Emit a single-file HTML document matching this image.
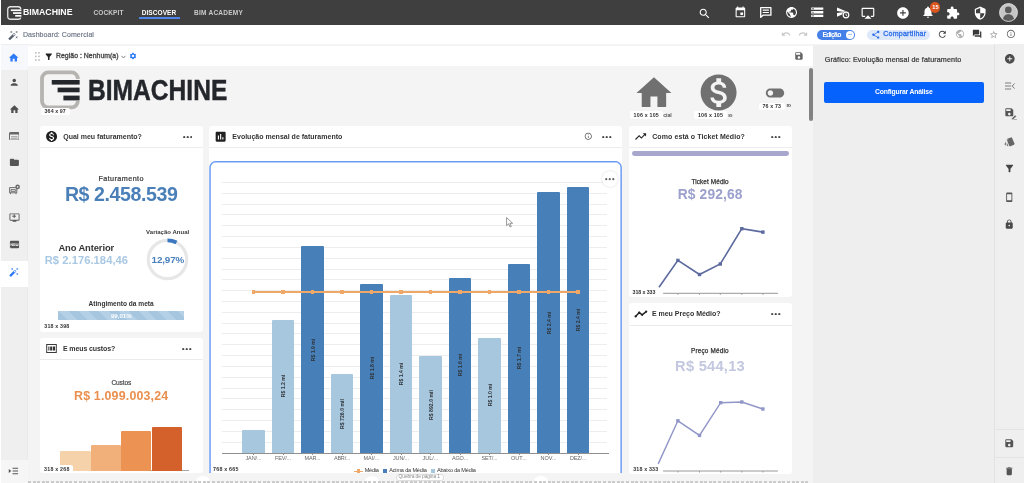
<!DOCTYPE html><html lang="pt-BR"><head><meta charset="utf-8"><title>Dashboard: Comercial</title><style>html,body{margin:0;padding:0}body{width:1024px;height:483px;position:relative;overflow:hidden;background:#f4f4f4;font-family:"Liberation Sans", sans-serif}.a{position:absolute;display:block}.t{position:absolute;white-space:nowrap;line-height:1}</style></head><body>
<div class="a" style="left:0px;top:0px;width:1024px;height:25px;background:#3f3f3f;"></div>
<div class="a" style="left:0px;top:0px;width:1px;height:25px;background:#fff;"></div>
<svg class="a" style="left:7px;top:5.5px" width="15" height="14" viewBox="0 0 15 14"><rect x="0.75" y="0.75" width="13" height="12.5" rx="2.6" fill="none" stroke="#e6e6e6" stroke-width="1.3"/><rect x="3.5" y="3" width="11.5" height="8.6" fill="#3f3f3f"/><rect x="3.8" y="3.4" width="10.6" height="1.7" fill="#fff"/><rect x="6" y="6.2" width="8.4" height="1.7" fill="#fff"/><rect x="8.2" y="9" width="6.2" height="1.7" fill="#fff"/></svg>
<span class="t" style="left:23.10px;top:7.31px;font-size:9.8px;font-weight:700;color:#fff;transform-origin:0 50%;transform:scaleX(0.8916);">BIMACHINE</span>
<span class="t" style="left:93.50px;top:9.52px;font-size:6.5px;font-weight:700;color:#cacaca;letter-spacing:0.107px;">COCKPIT</span>
<span class="t" style="left:141.70px;top:9.52px;font-size:6.5px;font-weight:700;color:#fff;letter-spacing:0.081px;">DISCOVER</span>
<div class="a" style="left:138.7px;top:17.1px;width:41.20000000000002px;height:1.5px;background:#4d86e8;"></div>
<span class="t" style="left:194.00px;top:9.52px;font-size:6.5px;font-weight:700;color:#cacaca;letter-spacing:0.241px;">BIM ACADEMY</span>
<svg class="a" style="left:698.10px;top:6.60px" width="13.2" height="13.2" viewBox="0 0 24 24" ><path fill="#fff" d="M15.500 14h-.79l-.28-.27C15.410 12.590 16 11.110 16 9.500 16 5.910 13.090 3 9.500 3S3 5.910 3 9.500 5.910 16 9.500 16c1.610 0 3.090-.59 4.230-1.570l.27.28v.79l5 4.990L20.490 19l-4.990-5zm-6 0C7.010 14 5 11.990 5 9.500S7.010 5 9.500 5 14 7.010 14 9.500 11.990 14 9.500 14z"/></svg>
<svg class="a" style="left:733.90px;top:6.00px" width="12.8" height="12.8" viewBox="0 0 24 24" ><path fill="#fff" d="M17 12h-5v5h5v-5zM16 1v2H8V1H6v2H5c-1.110 0-1.990.9-1.990 2L3 19c0 1.100.89 2 2 2h14c1.100 0 2-.9 2-2V5c0-1.100-.9-2-2-2h-1V1h-2zm3 18H5V8h14v11z"/></svg>
<svg class="a" style="left:784.95px;top:6.45px" width="13.1" height="13.1" viewBox="0 0 24 24" ><path fill="#fff" d="M12 2C6.480 2 2 6.480 2 12s4.480 10 10 10 10-4.480 10-10S17.520 2 12 2zm-1 17.930c-3.950-.49-7-3.850-7-7.930 0-.62.08-1.210.21-1.790L9 15v1c0 1.100.9 2 2 2v1.930zm6.900-2.540c-.26-.81-1-1.390-1.900-1.390h-1v-3c0-.55-.45-1-1-1H8v-2h2c.55 0 1-.45 1-1V7h2c1.100 0 2-.9 2-2v-.41c2.930 1.190 5 4.060 5 7.410 0 2.080-.8 3.970-2.100 5.390z"/></svg>
<svg class="a" style="left:809.85px;top:5.45px" width="14.5" height="14.5" viewBox="0 0 24 24" ><path fill="#fff" d="M2 20h20v-4H2v4zm2-3h2v2H4v-2zM2 4v4h20V4H2zm4 3H4V5h2v2zm-4 7h20v-4H2v4zm2-3h2v2H4v-2z"/></svg>
<svg class="a" style="left:861.25px;top:6.05px" width="13.9" height="13.9" viewBox="0 0 24 24" ><path fill="#fff" d="M6 22h12l-6-6-6 6zM21 3H3c-1.100 0-2 .9-2 2v12c0 1.100.9 2 2 2h4v-2H3V5h18v12h-4v2h4c1.100 0 2-.9 2-2V5c0-1.100-.9-2-2-2z"/></svg>
<svg class="a" style="left:895.85px;top:5.85px" width="13.9" height="13.9" viewBox="0 0 24 24" ><path fill="#fff" d="M12 2C6.480 2 2 6.480 2 12s4.480 10 10 10 10-4.480 10-10S17.520 2 12 2zm5 11h-4v4h-2v-4H7v-2h4V7h2v4h4v2z"/></svg>
<svg class="a" style="left:921.30px;top:5.30px" width="14" height="14" viewBox="0 0 24 24" ><path fill="#fff" d="M12 22c1.100 0 2-.9 2-2h-4c0 1.100.89 2 2 2zm6-6v-5c0-3.070-1.640-5.640-4.500-6.320V4c0-.83-.67-1.500-1.500-1.500s-1.500.67-1.500 1.500v.68C7.630 5.360 6 7.920 6 11v5l-2 2v1h16v-1l-2-2z"/></svg>
<svg class="a" style="left:946.40px;top:6.00px" width="14" height="14" viewBox="0 0 24 24" ><path fill="#fff" d="M20.500 11H19V7c0-1.100-.9-2-2-2h-4V3.500C13 2.120 11.880 1 10.500 1S8 2.120 8 3.500V5H4c-1.100 0-1.990.9-1.990 2v3.800H3.500c1.490 0 2.700 1.210 2.700 2.700s-1.210 2.700-2.700 2.700H2V20c0 1.100.9 2 2 2h3.800v-1.500c0-1.490 1.210-2.700 2.700-2.700 1.490 0 2.700 1.210 2.700 2.700V22H17c1.100 0 2-.9 2-2v-4h1.500c1.380 0 2.500-1.120 2.500-2.500S21.880 11 20.500 11z"/></svg>
<svg class="a" style="left:972.50px;top:6.00px" width="14.4" height="14.4" viewBox="0 0 24 24" ><path fill="#fff" d="M12 1L3 5v6c0 5.550 3.840 10.740 9 12 5.160-1.260 9-6.450 9-12V5l-9-4zm0 10.990h7c-.53 4.120-3.280 7.790-7 8.940V12H5V6.300l7-3.110v8.800z"/></svg>
<svg class="a" style="left:760.2px;top:7.3px" width="11.6" height="11" viewBox="0 0 11.6 11"><path d="M0.7 0.7H10.9V8.2H3L0.7 10.4Z" fill="none" stroke="#fff" stroke-width="1.3" stroke-linejoin="round"/><path d="M2.7 3.1h6.2M2.7 5.5h6.2" stroke="#fff" stroke-width="1.1"/></svg>
<svg class="a" style="left:835.90px;top:6.30px" width="12.2" height="12.2" viewBox="0 0 24 24" ><path fill="#fff" d="M2.010 21L23 12 2.010 3 2 10l15 2-15 2z"/></svg>
<svg class="a" style="left:841.8px;top:11.4px" width="8" height="8" viewBox="0 0 10 10"><circle cx="5" cy="5" r="4.8" fill="#3f3f3f"/><circle cx="5" cy="5" r="3.5" fill="none" stroke="#fff" stroke-width="1.5"/><path d="M5 3v2.3l1.5 0.9" stroke="#fff" stroke-width="1" fill="none"/></svg>
<div class="a" style="left:930.1px;top:2.3px;width:10.4px;height:10.4px;border-radius:5.2px;background:#dc5620"></div>
<span class="t" style="left:932.20px;top:4.86px;font-size:5.6px;font-weight:700;color:#fff;letter-spacing:0.083px;">15</span>
<svg class="a" style="left:998.5px;top:3px" width="19" height="19" viewBox="0 0 19 19"><defs><clipPath id="av"><circle cx="9.5" cy="9.5" r="9.2"/></clipPath></defs><g clip-path="url(#av)"><rect width="19" height="19" fill="#c6c6c6"/><circle cx="9.3" cy="6.9" r="3.3" fill="#5a5a5a"/><path d="M3.6 19C3.6 13.6 6 11.2 9.4 11.2S15.4 13.6 15.4 19Z" fill="#5a5a5a"/></g><circle cx="9.5" cy="9.5" r="8.9" fill="none" stroke="#dadada" stroke-width="0.8"/></svg>
<div class="a" style="left:0px;top:25px;width:1024px;height:19px;background:#fff;"></div>
<svg class="a" style="left:8.00px;top:29.80px" width="10.6" height="10.6" viewBox="0 0 24 24" ><path fill="#5a6270" d="M7.500 5.600L10 7 8.600 4.500 10 2 7.500 3.400 5 2l1.400 2.500L5 7zm12 9.800L17 14l1.400 2.500L17 19l2.500-1.400L22 19l-1.400-2.500L22 14zM22 2l-2.500 1.400L17 2l1.400 2.500L17 7l2.500-1.400L22 7l-1.400-2.500zm-7.630 5.290c-.39-.39-1.020-.39-1.410 0L1.290 18.960c-.39.39-.39 1.020 0 1.410l2.340 2.340c.39.39 1.020.39 1.410 0L16.700 11.050c.39-.39.39-1.020 0-1.410l-2.330-2.350zm-1.030 5.490l-2.120-2.120 2.440-2.440 2.120 2.120-2.440 2.440z"/></svg>
<span class="t" style="left:23.00px;top:31.18px;font-size:7px;font-weight:400;color:#6a7484;letter-spacing:0.067px;-webkit-text-stroke:0.15px #6a7484;">Dashboard: Comercial</span>
<svg class="a" style="left:780.60px;top:29.40px" width="10" height="10" viewBox="0 0 24 24" ><path fill="#c8c8c8" d="M12.500 8c-2.650 0-5.050.99-6.900 2.600L2 7v9h9l-3.620-3.620c1.390-1.160 3.160-1.880 5.120-1.880 3.540 0 6.550 2.310 7.600 5.500l2.370-.78C21.080 11.030 17.150 8 12.500 8z"/></svg>
<svg class="a" style="left:798.20px;top:29.40px" width="10" height="10" viewBox="0 0 24 24" ><path fill="#c8c8c8" d="M18.400 10.600C16.550 8.990 14.150 8 11.500 8c-4.650 0-8.580 3.030-9.960 7.220L3.900 16c1.050-3.190 4.050-5.500 7.600-5.500 1.950 0 3.730.72 5.120 1.880L13 16h9V7l-3.600 3.600z"/></svg>
<div class="a" style="left:816.8px;top:29.6px;width:38.5px;height:10.5px;border-radius:6px;background:#4580e8"></div>
<div class="a" style="left:845.8px;top:30.8px;width:8.2px;height:8.2px;border-radius:4.1px;background:#fff"></div>
<div class="a" style="left:848px;top:34.4px;width:3.8px;height:1px;background:#a9c2f0"></div>
<span class="t" style="left:822.40px;top:31.58px;font-size:6.8px;font-weight:700;color:#fff;letter-spacing:-0.666px;">Edição</span>
<div class="a" style="left:866.9px;top:29.6px;width:63px;height:10.5px;border-radius:6px;background:#dde8fb"></div>
<svg class="a" style="left:870.70px;top:30.00px" width="9.6" height="9.6" viewBox="0 0 24 24" ><path fill="#2d6ee6" d="M18 16.080c-.76 0-1.440.3-1.960.77L8.910 12.700c.05-.23.09-.46.09-.7s-.04-.47-.09-.7l7.050-4.110c.54.5 1.250.81 2.040.81 1.660 0 3-1.340 3-3s-1.340-3-3-3-3 1.340-3 3c0 .24.04.47.09.7L8.040 9.810C7.500 9.310 6.790 9 6 9c-1.660 0-3 1.340-3 3s1.340 3 3 3c.79 0 1.500-.31 2.040-.81l7.120 4.160c-.05.21-.08.43-.08.65 0 1.610 1.310 2.920 2.920 2.920 1.610 0 2.920-1.310 2.920-2.920s-1.310-2.920-2.920-2.920z"/></svg>
<span class="t" style="left:883.20px;top:31.33px;font-size:7.1px;font-weight:400;color:#2d6ee6;letter-spacing:0.208px;-webkit-text-stroke:0.3px #2d6ee6;">Compartilhar</span>
<svg class="a" style="left:937.40px;top:28.70px" width="10.6" height="10.6" viewBox="0 0 24 24" ><path fill="#444" d="M17.650 6.350C16.200 4.900 14.210 4 12 4c-4.420 0-7.990 3.580-7.990 8s3.570 8 7.990 8c3.730 0 6.840-2.550 7.730-6h-2.080c-.82 2.330-3.040 4-5.650 4-3.310 0-6-2.690-6-6s2.690-6 6-6c1.660 0 3.140.69 4.220 1.780L13 11h7V4l-2.350 2.350z"/></svg>
<svg class="a" style="left:954.65px;top:29.00px" width="10" height="10" viewBox="0 0 24 24" ><path fill="#b0b0b0" d="M12 2C6.480 2 2 6.480 2 12s4.480 10 10 10 10-4.480 10-10S17.520 2 12 2zm-1 17.930c-3.950-.49-7-3.850-7-7.930 0-.62.08-1.210.21-1.790L9 15v1c0 1.100.9 2 2 2v1.930zm6.900-2.540c-.26-.81-1-1.390-1.900-1.390h-1v-3c0-.55-.45-1-1-1H8v-2h2c.55 0 1-.45 1-1V7h2c1.100 0 2-.9 2-2v-.41c2.930 1.190 5 4.060 5 7.410 0 2.080-.8 3.970-2.100 5.390z"/></svg>
<svg class="a" style="left:971.90px;top:29.10px" width="10.2" height="10.2" viewBox="0 0 24 24" ><path fill="#3a3a3a" d="M21 6h-2v9H6v2c0 .55.45 1 1 1h11l4 4V7c0-.55-.45-1-1-1zm-4 6V3c0-.55-.45-1-1-1H3c-.55 0-1 .45-1 1v14l4-4h10c.55 0 1-.45 1-1z"/></svg>
<svg class="a" style="left:989.30px;top:29.70px" width="9.4" height="9.4" viewBox="0 0 24 24" ><path fill="#999" d="M22 9.240l-7.190-.62L12 2 9.190 8.630 2 9.240l5.460 4.730L5.820 21 12 17.270 18.180 21l-1.630-7.030L22 9.240zM12 15.400l-3.760 2.270 1-4.280-3.320-2.880 4.380-.38L12 6.100l1.710 4.040 4.380.38-3.320 2.880 1 4.280L12 15.400z"/></svg>
<svg class="a" style="left:1005.85px;top:29.05px" width="9.9" height="9.9" viewBox="0 0 24 24" ><path fill="#6a6a6a" d="M11 17h2v-6h-2v6zm1-15C6.480 2 2 6.480 2 12s4.480 10 10 10 10-4.480 10-10S17.520 2 12 2zm0 18c-4.410 0-8-3.590-8-8s3.590-8 8-8 8 3.590 8 8-3.590 8-8 8zM11 9h2V7h-2v2z"/></svg>
<div class="a" style="left:0px;top:44px;width:1024px;height:439px;background:#f4f4f4;"></div>
<div class="a" style="left:0px;top:44px;width:27.5px;height:439px;background:#efefef;"></div>
<div class="a" style="left:0px;top:44px;width:1px;height:439px;background:#fff;"></div>
<div class="a" style="left:27px;top:44px;width:0.8000000000000007px;height:439px;background:#e9e9e9;"></div>
<div class="a" style="left:1px;top:44.5px;width:26.5px;height:25.5px;background:#f6f8fc;"></div>
<svg class="a" style="left:8.40px;top:51.80px" width="11.4" height="11.4" viewBox="0 0 24 24" ><path fill="#2f7af5" d="M10 20v-6h4v6h5v-8h3L12 3 2 12h3v8z"/></svg>
<svg class="a" style="left:8.85px;top:76.55px" width="10.5" height="10.5" viewBox="0 0 24 24" ><path fill="#4f4f4f" d="M12 12c2.21 0 4-1.79 4-4s-1.79-4-4-4-4 1.790-4 4 1.790 4 4 4zm0 2c-2.670 0-8 1.340-8 4v2h16v-2c0-2.660-5.330-4-8-4z"/></svg>
<svg class="a" style="left:8.70px;top:103.60px" width="10.8" height="10.8" viewBox="0 0 24 24" ><path fill="#4f4f4f" d="M10 20v-6h4v6h5v-8h3L12 3 2 12h3v8z"/></svg>
<svg class="a" style="left:8.8px;top:131.6px" width="10.6" height="8.6" viewBox="0 0 10.6 8.6"><rect x="0.5" y="0.5" width="9.6" height="7.6" rx="0.8" fill="none" stroke="#666" stroke-width="1"/><rect x="0.5" y="0.5" width="9.6" height="2" fill="#666"/><path d="M2 4.7h6.6M2 6.3h6.6" stroke="#8a8a8a" stroke-width="0.8"/></svg>
<svg class="a" style="left:8.70px;top:157.40px" width="10.8" height="10.8" viewBox="0 0 24 24" ><path fill="#555" d="M10 4H4c-1.100 0-1.990.9-1.990 2L2 18c0 1.100.9 2 2 2h16c1.100 0 2-.9 2-2V8c0-1.100-.9-2-2-2h-8l-2-2z"/></svg>
<svg class="a" style="left:8.6px;top:184.4px" width="11.4" height="10.6" viewBox="0 0 11.4 10.6"><path d="M0.6 3.6h7.2v5.2H0.6z" fill="none" stroke="#6a6a6a" stroke-width="1"/><path d="M1.4 10.2v-1.6M7 10.2v-1.6M2 5.6h4.4v1.8H2z" stroke="#6a6a6a" stroke-width="0.9" fill="none"/><circle cx="8.6" cy="2.9" r="2.3" fill="#6a6a6a"/><circle cx="8.6" cy="2.9" r="0.8" fill="#efefef"/></svg>
<svg class="a" style="left:8.60px;top:211.70px" width="11" height="11" viewBox="0 0 24 24" ><path fill="#5a5a5a" d="M21 3H3c-1.100 0-2 .9-2 2v12c0 1.100.9 2 2 2h5v2h8v-2h5c1.100 0 1.990-.9 1.990-2L23 5c0-1.100-.9-2-2-2zm0 14H3V5h18v12z"/></svg>
<svg class="a" style="left:12px;top:213.6px" width="4.4" height="4.4" viewBox="0 0 4.4 4.4"><path d="M2.2 0.2v4M0.2 2.2h4" stroke="#5a5a5a" stroke-width="1"/></svg>
<svg class="a" style="left:8.60px;top:239.10px" width="11" height="11" viewBox="0 0 24 24" ><path fill="#555" d="M20 4H4c-1.110 0-1.990.89-1.990 2L2 18c0 1.110.89 2 2 2h16c1.110 0 2-.89 2-2V6c0-1.110-.89-2-2-2zM8.500 15H7.300l-2.550-3.500V15H3.500V9h1.250l2.500 3.500V9H8.500v6zm5-4.740H11v1.120h2.500v1.260H11v1.110h2.500V15h-4V9h4v1.260zm7 3.740c0 .55-.45 1-1 1h-4c-.55 0-1-.45-1-1V9h1.250v4.510h1.130V9.990h1.250v3.510h1.120V9h1.250v5z"/></svg>
<div class="a" style="left:0px;top:260.5px;width:27.5px;height:26.5px;background:#fff;"></div>
<svg class="a" style="left:9.10px;top:267.10px" width="10.2" height="10.2" viewBox="0 0 24 24" ><path fill="#2f7af5" d="M7.500 5.600L10 7 8.600 4.500 10 2 7.500 3.400 5 2l1.400 2.500L5 7zm12 9.800L17 14l1.400 2.500L17 19l2.500-1.400L22 19l-1.400-2.500L22 14zM22 2l-2.500 1.400L17 2l1.400 2.500L17 7l2.500-1.400L22 7l-1.400-2.500zm-7.630 5.290c-.39-.39-1.020-.39-1.410 0L1.290 18.960c-.39.39-.39 1.020 0 1.410l2.340 2.340c.39.39 1.020.39 1.410 0L16.700 11.050c.39-.39.39-1.020 0-1.410l-2.330-2.350zm-1.030 5.490l-2.120-2.120 2.440-2.440 2.120 2.120-2.440 2.440z"/></svg>
<div class="a" style="left:1px;top:460px;width:26.5px;height:23px;background:#f6f6f6;"></div>
<svg class="a" style="left:8.4px;top:467.4px" width="11" height="8.2" viewBox="0 0 11 9"><path d="M0.3 2.3 L3 4.5 L0.3 6.7z" fill="#555"/><path d="M4.5 1.5h6M4.5 4.5h6M4.5 7.5h6" stroke="#555" stroke-width="1.1"/></svg>
<div class="a" style="left:28px;top:46.2px;width:785.4px;height:19.599999999999994px;background:#fff;"></div>
<svg class="a" style="left:35px;top:52px" width="5" height="9" viewBox="0 0 5 9"><g fill="#bdbdbd"><rect x="0" y="0" width="1.6" height="1.6"/><rect x="3.2" y="0" width="1.6" height="1.6"/><rect x="0" y="3.6" width="1.6" height="1.6"/><rect x="3.2" y="3.6" width="1.6" height="1.6"/><rect x="0" y="7.2" width="1.6" height="1.6"/><rect x="3.2" y="7.2" width="1.6" height="1.6"/></g></svg>
<svg class="a" style="left:43.75px;top:51.85px" width="9.5" height="9.5" viewBox="0 0 24 24" ><path fill="#222" d="M4.250 5.610C6.270 8.200 10 13 10 13v6c0 .55.45 1 1 1h2c.55 0 1-.45 1-1v-6s3.720-4.800 5.740-7.390c.51-.66.04-1.610-.79-1.610H5.040c-.83 0-1.300.95-.79 1.610z"/></svg>
<span class="t" style="left:56.00px;top:53.03px;font-size:6.9px;font-weight:400;color:#4a4a4a;letter-spacing:0.025px;-webkit-text-stroke:0.35px #4a4a4a;">Região : Nenhum(a)</span>
<svg class="a" style="left:120.5px;top:54.5px" width="5" height="4" viewBox="0 0 5 4"><path d="M0.5 0.8L2.5 3 4.5 0.8" stroke="#777" stroke-width="0.9" fill="none"/></svg>
<svg class="a" style="left:128.50px;top:52.40px" width="8" height="8" viewBox="0 0 24 24" ><path fill="#2f7af5" d="M19.140 12.940c.04-.3.06-.61.06-.94 0-.32-.02-.64-.07-.94l2.030-1.580c.18-.14.23-.41.12-.61l-1.920-3.320c-.12-.22-.37-.29-.59-.22l-2.390.96c-.5-.38-1.030-.7-1.620-.94l-.36-2.540c-.04-.24-.24-.41-.48-.41h-3.840c-.24 0-.43.17-.47.41l-.36 2.540c-.59.24-1.130.57-1.620.94l-2.390-.96c-.22-.08-.47 0-.59.22L2.740 8.870c-.12.21-.08.47.12.61l2.030 1.580c-.05.3-.09.63-.09.94s.02.64.07.94l-2.030 1.580c-.18.14-.23.41-.12.61l1.920 3.320c.12.22.37.29.59.22l2.390-.96c.5.38 1.030.7 1.620.94l.36 2.540c.05.24.24.41.48.41h3.840c.24 0 .44-.17.47-.41l.36-2.540c.59-.24 1.130-.56 1.620-.94l2.390.96c.22.08.47 0 .59-.22l1.920-3.320c.12-.22.07-.47-.12-.61l-2.010-1.580zM12 15.600c-1.980 0-3.600-1.620-3.600-3.600s1.620-3.600 3.600-3.600 3.600 1.620 3.600 3.600-1.620 3.600-3.600 3.600z"/></svg>
<svg class="a" style="left:793.95px;top:51.35px" width="9.9" height="9.9" viewBox="0 0 24 24" ><path fill="#666" d="M17 3H5c-1.110 0-2 .9-2 2v14c0 1.100.89 2 2 2h14c1.100 0 2-.9 2-2V7l-4-4zm-5 16c-1.660 0-3-1.340-3-3s1.340-3 3-3 3 1.340 3 3-1.340 3-3 3zm3-10H5V5h10v4z"/></svg>
<div class="a" style="left:809.4px;top:68px;width:3.8px;height:52.6px;border-radius:2px;background:#828282"></div>
<div class="a" style="left:813.4px;top:44.6px;width:181.0px;height:438.4px;background:#eeeeee;"></div>
<div class="a" style="left:994.4px;top:44px;width:29.600000000000023px;height:439px;background:#efefef;"></div>
<div class="a" style="left:994px;top:44px;width:0.8999999999999773px;height:439px;background:#e3e3e3;"></div>
<span class="t" style="left:824.80px;top:55.98px;font-size:7.2px;font-weight:400;color:#333;letter-spacing:0.112px;-webkit-text-stroke:0.2px #333;">Gráfico: Evolução mensal de faturamento</span>
<div class="a" style="left:824.4px;top:82px;width:159.4px;height:21.2px;border-radius:2px;background:#0562fc"></div>
<span class="t" style="left:875.00px;top:89.28px;font-size:6.8px;font-weight:700;color:#fff;letter-spacing:-0.170px;">Configurar Análise</span>
<svg class="a" style="left:1003.60px;top:52.50px" width="11.6" height="11.6" viewBox="0 0 24 24" ><path fill="#4a4a4a" d="M12 2C6.480 2 2 6.480 2 12s4.480 10 10 10 10-4.480 10-10S17.520 2 12 2zm5 11h-4v4h-2v-4H7v-2h4V7h2v4h4v2z"/></svg>
<svg class="a" style="left:1004.6px;top:82.3px" width="10" height="8" viewBox="0 0 10 8"><path d="M0 1h6.2M0 4h6.2M0 7h6.2" stroke="#7c7c7c" stroke-width="1"/><path d="M9.6 1.4L7.2 4l2.400 2.600" stroke="#7c7c7c" stroke-width="1" fill="none"/></svg>
<svg class="a" style="left:1003.50px;top:107.30px" width="10.6" height="10.6" viewBox="0 0 24 24" ><path fill="#555" d="M17 3H5c-1.110 0-2 .9-2 2v14c0 1.100.89 2 2 2h14c1.100 0 2-.9 2-2V7l-4-4zm-5 16c-1.660 0-3-1.340-3-3s1.340-3 3-3 3 1.340 3 3-1.340 3-3 3zm3-10H5V5h10v4z"/></svg>
<svg class="a" style="left:1010.6px;top:113.6px" width="6.4" height="6.400" viewBox="0 0 6.4 6.4"><path d="M0.600 5.800L1 4.200 4.200 1 5.400 2.200 2.200 5.400Z" fill="#555" stroke="#eee" stroke-width="0.5"/><path d="M2.800 6h3.400" stroke="#555" stroke-width="0.8"/></svg>
<svg class="a" style="left:1003.50px;top:135.50px" width="11.4" height="11.4" viewBox="0 0 24 24" ><path fill="#666" d="M2.530 19.650l1.340.56v-9.030l-2.430 5.860c-.41 1.020.08 2.190 1.090 2.610zm19.500-3.700L17.070 3.980c-.31-.75-1.040-1.210-1.810-1.230-.26 0-.53.04-.79.15L7.100 5.950c-.75.31-1.210 1.030-1.230 1.800-.01.27.04.54.15.8l4.960 11.970c.31.76 1.050 1.220 1.830 1.230.26 0 .52-.05.77-.15l7.360-3.050c1.020-.42 1.510-1.590 1.090-2.600zM7.880 8.750c-.55 0-1-.45-1-1s.45-1 1-1 1 .45 1 1-.45 1-1 1zm-2 11c0 1.100.9 2 2 2h1.450l-3.450-8.340v6.340z"/></svg>
<svg class="a" style="left:1003.70px;top:162.70px" width="11" height="11" viewBox="0 0 24 24" ><path fill="#444" d="M4.250 5.610C6.270 8.200 10 13 10 13v6c0 .55.45 1 1 1h2c.55 0 1-.45 1-1v-6s3.720-4.800 5.740-7.390c.51-.66.04-1.610-.79-1.610H5.040c-.83 0-1.300.95-.79 1.610z"/></svg>
<svg class="a" style="left:1003.95px;top:191.75px" width="10.5" height="10.5" viewBox="0 0 24 24" ><path fill="#555" d="M17 1.010L7 1c-1.100 0-1.990.9-1.990 2v18c0 1.100.89 2 1.990 2h10c1.100 0 2-.9 2-2V3c0-1.100-.9-1.990-2-1.990zM17 19H7V5h10v14z"/></svg>
<svg class="a" style="left:1003.95px;top:218.55px" width="10.5" height="10.5" viewBox="0 0 24 24" ><path fill="#4a4a4a" d="M18 8h-1V6c0-2.760-2.240-5-5-5S7 3.240 7 6v2H6c-1.100 0-2 .9-2 2v10c0 1.100.9 2 2 2h12c1.100 0 2-.9 2-2V10c0-1.100-.9-2-2-2zm-6 9c-1.100 0-2-.9-2-2s.9-2 2-2 2 .9 2 2-.9 2-2 2zm3.100-9H8.900V6c0-1.710 1.390-3.100 3.100-3.100 1.710 0 3.100 1.390 3.100 3.100v2z"/></svg>
<div class="a" style="left:995px;top:429.1px;width:29px;height:0.7999999999999545px;background:#e4e4e4;"></div>
<div class="a" style="left:995px;top:456.9px;width:29px;height:0.8000000000000114px;background:#e4e4e4;"></div>
<svg class="a" style="left:1003.75px;top:438.15px" width="10.5" height="10.5" viewBox="0 0 24 24" ><path fill="#555" d="M17 3H5c-1.110 0-2 .9-2 2v14c0 1.100.89 2 2 2h14c1.100 0 2-.9 2-2V7l-4-4zm-5 16c-1.660 0-3-1.340-3-3s1.340-3 3-3 3 1.340 3 3-1.340 3-3 3zm3-10H5V5h10v4z"/></svg>
<svg class="a" style="left:1003.75px;top:465.55px" width="10.5" height="10.5" viewBox="0 0 24 24" ><path fill="#555" d="M6 19c0 1.100.9 2 2 2h8c1.100 0 2-.9 2-2V7H6v12zM19 4h-3.500l-1-1h-5l-1 1H5v2h14V4z"/></svg>
<svg class="a" style="left:40px;top:70px" width="42" height="40" viewBox="0 0 42 40"><rect x="2" y="2.4" width="35.8" height="35" rx="6.3" fill="none" stroke="#b6b4b1" stroke-width="3.8"/><rect x="10" y="9" width="31" height="22" fill="#f4f4f4"/><rect x="11.75" y="10" width="27.9" height="4.6" fill="#23262b"/><rect x="17.6" y="17.6" width="22" height="4.7" fill="#23262b"/><rect x="23.4" y="25.6" width="16.2" height="4.8" fill="#23262b"/></svg>
<span class="t" style="left:88.00px;top:75.84px;font-size:29.2px;font-weight:700;color:#23262b;transform-origin:0 50%;transform:scaleX(0.8422);-webkit-text-stroke:0.45px #23262b;">BIMACHINE</span>
<div class="a" style="left:40.6px;top:107.60000000000001px;width:29.300000000000004px;height:7.8px;border-radius:2px;background:#fff"></div>
<span class="t" style="left:44.60px;top:109.31px;font-size:5.3px;font-weight:700;color:#333;letter-spacing:0.084px;">364 x 97</span>
<svg class="a" style="left:633.10px;top:71.55px" width="41.9" height="41.9" viewBox="0 0 24 24" ><path fill="#707070" d="M10 20v-6h4v6h5v-8h3L12 3 2 12h3v8z"/></svg>
<svg class="a" style="left:697.00px;top:70.55px" width="43.2" height="43.2" viewBox="0 0 24 24" ><path fill="#707070" d="M12 2C6.480 2 2 6.480 2 12s4.480 10 10 10 10-4.480 10-10S17.520 2 12 2zm1.410 16.090V20h-2.670v-1.930c-1.710-.36-3.160-1.460-3.270-3.400h1.960c.1 1.050.82 1.870 2.650 1.870 1.960 0 2.400-.98 2.400-1.590 0-.83-.44-1.610-2.670-2.140-2.480-.6-4.180-1.620-4.180-3.670 0-1.720 1.390-2.840 3.110-3.210V4h2.670v1.950c1.860.45 2.790 1.860 2.850 3.390H14.300c-.05-1.110-.64-1.870-2.220-1.870-1.500 0-2.400.68-2.400 1.640 0 .84.65 1.390 2.670 1.910s4.180 1.390 4.180 3.910c-.01 1.830-1.380 2.830-3.120 3.160z"/></svg>
<svg class="a" style="left:764.35px;top:81.55px" width="22" height="22" viewBox="0 0 24 24" ><path fill="#707070" d="M17 7H7c-2.760 0-5 2.240-5 5s2.240 5 5 5h10c2.760 0 5-2.240 5-5s-2.240-5-5-5zM7 15c-1.660 0-3-1.340-3-3s1.340-3 3-3 3 1.340 3 3-1.340 3-3 3z"/></svg>
<div class="a" style="left:629.6px;top:111.4px;width:33.39999999999998px;height:7.8px;border-radius:2px;background:#fff"></div>
<span class="t" style="left:633.60px;top:113.11px;font-size:5.3px;font-weight:700;color:#333;letter-spacing:0.202px;">106 x 105</span>
<span class="t" style="left:663.20px;top:113.41px;font-size:5.3px;font-weight:700;color:#555;letter-spacing:-0.061px;">cial</span>
<div class="a" style="left:694px;top:111.4px;width:33px;height:7.8px;border-radius:2px;background:#fff"></div>
<span class="t" style="left:698.00px;top:113.11px;font-size:5.3px;font-weight:700;color:#333;letter-spacing:0.158px;">106 x 105</span>
<span class="t" style="left:728.30px;top:113.41px;font-size:5.3px;font-weight:700;color:#555;letter-spacing:-0.609px;">ıo</span>
<div class="a" style="left:758.5px;top:102.7px;width:26.600000000000023px;height:7.8px;border-radius:2px;background:#fff"></div>
<span class="t" style="left:762.50px;top:104.41px;font-size:5.3px;font-weight:700;color:#333;letter-spacing:0.130px;">76 x 73</span>
<span class="t" style="left:786.40px;top:103.41px;font-size:5.3px;font-weight:700;color:#555;letter-spacing:-0.656px;">ro</span>
<div class="a" style="left:39.7px;top:126.2px;width:163.3px;height:205.60000000000002px;background:#fff;border-radius:3px"></div>
<div class="a" style="left:39.7px;top:147px;width:163.3px;height:0.8000000000000114px;background:#ececec;"></div>
<svg class="a" style="left:44.90px;top:129.90px" width="13.2" height="13.2" viewBox="0 0 24 24" ><path fill="#222" d="M12 2C6.480 2 2 6.480 2 12s4.480 10 10 10 10-4.480 10-10S17.520 2 12 2zm1.410 16.090V20h-2.670v-1.930c-1.710-.36-3.160-1.460-3.270-3.400h1.960c.1 1.050.82 1.870 2.650 1.870 1.960 0 2.400-.98 2.400-1.590 0-.83-.44-1.610-2.670-2.140-2.480-.6-4.180-1.620-4.180-3.670 0-1.720 1.390-2.840 3.110-3.210V4h2.670v1.950c1.860.45 2.790 1.860 2.850 3.390H14.300c-.05-1.110-.64-1.870-2.220-1.870-1.500 0-2.400.68-2.400 1.640 0 .84.65 1.390 2.670 1.910s4.180 1.390 4.180 3.910c-.01 1.830-1.380 2.830-3.120 3.160z"/></svg>
<span class="t" style="left:63.20px;top:133.18px;font-size:7px;font-weight:700;color:#333;letter-spacing:0.006px;">Qual meu faturamento?</span>
<svg class="a" style="left:182.7px;top:135.79999999999998px" width="9.5" height="2.4" viewBox="0 0 9.5 2.4"><circle cx="1.2" cy="1.2" r="1.1" fill="#4a4a4a"/><circle cx="4.75" cy="1.2" r="1.1" fill="#4a4a4a"/><circle cx="8.3" cy="1.2" r="1.1" fill="#4a4a4a"/></svg>
<span class="t" style="left:98.40px;top:174.68px;font-size:7.2px;font-weight:400;color:#333;letter-spacing:0.441px;-webkit-text-stroke:0.2px #333;">Faturamento</span>
<span class="t" style="left:64.90px;top:184.73px;font-size:19.6px;font-weight:700;color:#4a7fb8;letter-spacing:-0.423px;">R$ 2.458.539</span>
<span class="t" style="left:58.40px;top:243.01px;font-size:9.4px;font-weight:700;color:#333;letter-spacing:-0.104px;">Ano Anterior</span>
<span class="t" style="left:44.70px;top:254.93px;font-size:11.2px;font-weight:700;color:#a9c8e3;letter-spacing:0.044px;">R$ 2.176.184,46</span>
<span class="t" style="left:146.10px;top:229.37px;font-size:6px;font-weight:700;color:#3a3a3a;letter-spacing:0.029px;">Variação Anual</span>
<svg class="a" style="left:146.3px;top:238.3px" width="43" height="43" viewBox="0 0 43 43"><circle cx="21.5" cy="21.5" r="19.2" fill="none" stroke="#e7e7e7" stroke-width="3.2"/><path d="M21.5 2.3000000000000007A19.2 19.2 0 0 1 30.51 4.55" fill="none" stroke="#3c78c0" stroke-width="3.8"/></svg>
<span class="t" style="left:151.60px;top:254.96px;font-size:9.9px;font-weight:700;color:#4a80bd;letter-spacing:-0.150px;">12,97%</span>
<span class="t" style="left:88.60px;top:301.08px;font-size:6.6px;font-weight:700;color:#333;letter-spacing:-0.006px;">Atingimento da meta</span>
<div class="a" style="left:58.1px;top:311px;width:126px;height:9.4px;background:repeating-linear-gradient(45deg,#a6c6e0 0 7px,#b4d0e7 7px 14px)"></div>
<span class="t" style="left:111.00px;top:312.67px;font-size:6.2px;font-weight:700;color:#fff;letter-spacing:-0.067px;">99,01%</span>
<div class="a" style="left:42.3px;top:322.4px;width:29.10000000000001px;height:7.8px;border-radius:2px;background:#fff"></div>
<span class="t" style="left:44.30px;top:324.11px;font-size:5.3px;font-weight:700;color:#333;letter-spacing:0.169px;">318 x 398</span>
<div class="a" style="left:39.7px;top:337.9px;width:163.3px;height:134.90000000000003px;background:#fff;border-radius:3px"></div>
<div class="a" style="left:39.7px;top:359.2px;width:163.3px;height:0.8000000000000114px;background:#ececec;"></div>
<svg class="a" style="left:45.9px;top:343.9px" width="11" height="9" viewBox="0 0 11 9.4"><rect x="0.5" y="0.5" width="10" height="8.4" fill="none" stroke="#333" stroke-width="1"/><rect x="2.2" y="2.6" width="1.1" height="4.2" fill="#333"/><rect x="4.1" y="2.6" width="2.2" height="4.2" fill="#333"/><rect x="7" y="2.6" width="2.2" height="4.2" fill="#333"/></svg>
<span class="t" style="left:62.90px;top:345.18px;font-size:7px;font-weight:700;color:#333;letter-spacing:-0.099px;">E meus custos?</span>
<svg class="a" style="left:182.39999999999998px;top:347.8px" width="9.5" height="2.4" viewBox="0 0 9.5 2.4"><circle cx="1.2" cy="1.2" r="1.1" fill="#4a4a4a"/><circle cx="4.75" cy="1.2" r="1.1" fill="#4a4a4a"/><circle cx="8.3" cy="1.2" r="1.1" fill="#4a4a4a"/></svg>
<span class="t" style="left:111.40px;top:380.28px;font-size:6.6px;font-weight:400;color:#3c3c3c;letter-spacing:-0.105px;-webkit-text-stroke:0.15px #3c3c3c;">Custos</span>
<span class="t" style="left:74.00px;top:390.14px;font-size:12.4px;font-weight:700;color:#ea8f4e;letter-spacing:0.184px;">R$ 1.099.003,24</span>
<div class="a" style="left:74px;top:470.4px;width:115px;height:0.9000000000000341px;background:#a8a8a8;"></div>
<div class="a" style="left:60.2px;top:451.2px;width:30.5px;height:20.0px;background:#f6d2aa;border-radius:1px 1px 0 0"></div>
<div class="a" style="left:90.8px;top:444.8px;width:30.400000000000006px;height:26.399999999999977px;background:#f1b07a;border-radius:1px 1px 0 0"></div>
<div class="a" style="left:121.4px;top:430.9px;width:30.0px;height:40.30000000000001px;background:#ec9353;border-radius:1px 1px 0 0"></div>
<div class="a" style="left:151.7px;top:427px;width:30.5px;height:44.19999999999999px;background:#d4612c;border-radius:1px 1px 0 0"></div>
<div class="a" style="left:40.9px;top:465.0px;width:31.89999999999999px;height:7.8px;border-radius:2px;background:#fff"></div>
<span class="t" style="left:44.10px;top:466.71px;font-size:5.3px;font-weight:700;color:#333;letter-spacing:0.214px;">318 x 268</span>
<div class="a" style="left:209.3px;top:126.2px;width:412.7px;height:347.1px;background:#fff;border-radius:3px"></div>
<div class="a" style="left:209.3px;top:147.3px;width:412.7px;height:0.8000000000000114px;background:#ececec;"></div>
<svg class="a" style="left:214.00px;top:130.00px" width="13.3" height="13.3" viewBox="0 0 24 24" ><path fill="#222" d="M19 3H5c-1.100 0-2 .9-2 2v14c0 1.100.9 2 2 2h14c1.100 0 2-.9 2-2V5c0-1.100-.9-2-2-2zM9 17H7v-7h2v7zm4 0h-2V7h2v10zm4 0h-2v-4h2v4z"/></svg>
<span class="t" style="left:232.30px;top:133.18px;font-size:7px;font-weight:700;color:#333;letter-spacing:0.010px;">Evolução mensal de faturamento</span>
<svg class="a" style="left:583.75px;top:132.35px" width="8.5" height="8.5" viewBox="0 0 24 24" ><path fill="#555" d="M11 17h2v-6h-2v6zm1-15C6.480 2 2 6.480 2 12s4.480 10 10 10 10-4.480 10-10S17.520 2 12 2zm0 18c-4.410 0-8-3.590-8-8s3.590-8 8-8 8 3.590 8 8-3.590 8-8 8zM11 9h2V7h-2v2z"/></svg>
<svg class="a" style="left:602.2px;top:135.79999999999998px" width="9.5" height="2.4" viewBox="0 0 9.5 2.4"><circle cx="1.2" cy="1.2" r="1.1" fill="#4a4a4a"/><circle cx="4.75" cy="1.2" r="1.1" fill="#4a4a4a"/><circle cx="8.3" cy="1.2" r="1.1" fill="#4a4a4a"/></svg>
<svg class="a" style="left:209px;top:160px" width="413" height="313.3" viewBox="0 0 413 313.3"><rect x="1.05" y="1.85" width="411.1" height="320" rx="5.5" fill="#fff" stroke="#6b9cf4" stroke-width="1.5"/></svg>
<div class="a" style="left:222px;top:182.00px;width:385px;height:1px;background:#ededed"></div><div class="a" style="left:222px;top:192.82px;width:385px;height:1px;background:#ededed"></div><div class="a" style="left:222px;top:203.64px;width:385px;height:1px;background:#ededed"></div><div class="a" style="left:222px;top:214.46px;width:385px;height:1px;background:#ededed"></div><div class="a" style="left:222px;top:225.28px;width:385px;height:1px;background:#ededed"></div><div class="a" style="left:222px;top:236.10px;width:385px;height:1px;background:#ededed"></div><div class="a" style="left:222px;top:246.92px;width:385px;height:1px;background:#ededed"></div><div class="a" style="left:222px;top:257.74px;width:385px;height:1px;background:#ededed"></div><div class="a" style="left:222px;top:268.56px;width:385px;height:1px;background:#ededed"></div><div class="a" style="left:222px;top:279.38px;width:385px;height:1px;background:#ededed"></div><div class="a" style="left:222px;top:290.20px;width:385px;height:1px;background:#ededed"></div><div class="a" style="left:222px;top:301.02px;width:385px;height:1px;background:#ededed"></div><div class="a" style="left:222px;top:311.84px;width:385px;height:1px;background:#ededed"></div><div class="a" style="left:222px;top:322.66px;width:385px;height:1px;background:#ededed"></div><div class="a" style="left:222px;top:333.48px;width:385px;height:1px;background:#ededed"></div><div class="a" style="left:222px;top:344.30px;width:385px;height:1px;background:#ededed"></div><div class="a" style="left:222px;top:355.12px;width:385px;height:1px;background:#ededed"></div><div class="a" style="left:222px;top:365.94px;width:385px;height:1px;background:#ededed"></div><div class="a" style="left:222px;top:376.76px;width:385px;height:1px;background:#ededed"></div><div class="a" style="left:222px;top:387.58px;width:385px;height:1px;background:#ededed"></div><div class="a" style="left:222px;top:398.40px;width:385px;height:1px;background:#ededed"></div><div class="a" style="left:222px;top:409.22px;width:385px;height:1px;background:#ededed"></div><div class="a" style="left:222px;top:420.04px;width:385px;height:1px;background:#ededed"></div><div class="a" style="left:222px;top:430.86px;width:385px;height:1px;background:#ededed"></div><div class="a" style="left:222px;top:441.68px;width:385px;height:1px;background:#ededed"></div>
<div class="a" style="left:222.2px;top:452.9px;width:386.8px;height:0.9000000000000341px;background:#8f8f8f;"></div>
<div class="a" style="left:253.05px;top:453.8px;width:0.8px;height:1.3px;background:#8f8f8f"></div><div class="a" style="left:282.55px;top:453.8px;width:0.8px;height:1.3px;background:#8f8f8f"></div><div class="a" style="left:312.05px;top:453.8px;width:0.8px;height:1.3px;background:#8f8f8f"></div><div class="a" style="left:341.55px;top:453.8px;width:0.8px;height:1.3px;background:#8f8f8f"></div><div class="a" style="left:371.05px;top:453.8px;width:0.8px;height:1.3px;background:#8f8f8f"></div><div class="a" style="left:400.55px;top:453.8px;width:0.8px;height:1.3px;background:#8f8f8f"></div><div class="a" style="left:430.05px;top:453.8px;width:0.8px;height:1.3px;background:#8f8f8f"></div><div class="a" style="left:459.55px;top:453.8px;width:0.8px;height:1.3px;background:#8f8f8f"></div><div class="a" style="left:489.05px;top:453.8px;width:0.8px;height:1.3px;background:#8f8f8f"></div><div class="a" style="left:518.55px;top:453.8px;width:0.8px;height:1.3px;background:#8f8f8f"></div><div class="a" style="left:548.05px;top:453.8px;width:0.8px;height:1.3px;background:#8f8f8f"></div><div class="a" style="left:577.55px;top:453.8px;width:0.8px;height:1.3px;background:#8f8f8f"></div>
<div class="a" style="left:242.15px;top:430.4px;width:22.599999999999994px;height:22.600000000000023px;background:#a7c7de;border-radius:1px 1px 0 0"></div>
<span class="t" style="left:245.45px;top:456.21px;font-size:5.5px;font-weight:400;color:#666;letter-spacing:-0.074px;">JAN/...</span>
<div class="a" style="left:271.65px;top:319.5px;width:22.600000000000023px;height:133.5px;background:#a7c7de;border-radius:1px 1px 0 0"></div>
<span class="t" style="left:274.95px;top:456.21px;font-size:5.5px;font-weight:400;color:#666;letter-spacing:-0.116px;">FEV/...</span>
<div class="a" style="left:263.34999999999997px;top:383.25px;width:40px;height:6px;transform:rotate(-90deg);text-align:center;font-size:5.15px;font-weight:700;line-height:6px;color:#2f3338;white-space:nowrap">R$ 1.2 mi</div>
<div class="a" style="left:301.15px;top:246.2px;width:22.600000000000023px;height:206.8px;background:#4780b8;border-radius:1px 1px 0 0"></div>
<span class="t" style="left:304.45px;top:456.21px;font-size:5.5px;font-weight:400;color:#666;letter-spacing:-0.135px;">MAR...</span>
<div class="a" style="left:292.84999999999997px;top:346.59999999999997px;width:40px;height:6px;transform:rotate(-90deg);text-align:center;font-size:5.15px;font-weight:700;line-height:6px;color:#2f3338;white-space:nowrap">R$ 1.9 mi</div>
<div class="a" style="left:330.65px;top:374px;width:22.600000000000023px;height:79px;background:#a7c7de;border-radius:1px 1px 0 0"></div>
<span class="t" style="left:333.95px;top:456.21px;font-size:5.5px;font-weight:400;color:#666;letter-spacing:-0.203px;">ABR/...</span>
<div class="a" style="left:322.34999999999997px;top:410.5px;width:40px;height:6px;transform:rotate(-90deg);text-align:center;font-size:5.15px;font-weight:700;line-height:6px;color:#2f3338;white-space:nowrap">R$ 726.0 mil</div>
<div class="a" style="left:360.15px;top:283.5px;width:22.600000000000023px;height:169.5px;background:#4780b8;border-radius:1px 1px 0 0"></div>
<span class="t" style="left:363.45px;top:456.21px;font-size:5.5px;font-weight:400;color:#666;letter-spacing:0.016px;">MAI/...</span>
<div class="a" style="left:351.84999999999997px;top:365.25px;width:40px;height:6px;transform:rotate(-90deg);text-align:center;font-size:5.15px;font-weight:700;line-height:6px;color:#2f3338;white-space:nowrap">R$ 1.8 mi</div>
<div class="a" style="left:389.65px;top:294.8px;width:22.600000000000023px;height:158.2px;background:#a7c7de;border-radius:1px 1px 0 0"></div>
<span class="t" style="left:392.95px;top:456.21px;font-size:5.5px;font-weight:400;color:#666;letter-spacing:-0.116px;">JUN/...</span>
<div class="a" style="left:381.34999999999997px;top:370.90000000000003px;width:40px;height:6px;transform:rotate(-90deg);text-align:center;font-size:5.15px;font-weight:700;line-height:6px;color:#2f3338;white-space:nowrap">R$ 1.4 mi</div>
<div class="a" style="left:419.15px;top:356.4px;width:22.600000000000023px;height:96.60000000000002px;background:#a7c7de;border-radius:1px 1px 0 0"></div>
<span class="t" style="left:422.45px;top:456.21px;font-size:5.5px;font-weight:400;color:#666;letter-spacing:0.013px;">JUL/...</span>
<div class="a" style="left:410.84999999999997px;top:401.7px;width:40px;height:6px;transform:rotate(-90deg);text-align:center;font-size:5.15px;font-weight:700;line-height:6px;color:#2f3338;white-space:nowrap">R$ 892.0 mil</div>
<div class="a" style="left:448.65px;top:277.5px;width:22.600000000000023px;height:175.5px;background:#4780b8;border-radius:1px 1px 0 0"></div>
<span class="t" style="left:451.95px;top:456.21px;font-size:5.5px;font-weight:400;color:#666;letter-spacing:-0.135px;">AGO...</span>
<div class="a" style="left:440.34999999999997px;top:362.25px;width:40px;height:6px;transform:rotate(-90deg);text-align:center;font-size:5.15px;font-weight:700;line-height:6px;color:#2f3338;white-space:nowrap">R$ 1.6 mi</div>
<div class="a" style="left:478.15px;top:337.5px;width:22.600000000000023px;height:115.5px;background:#a7c7de;border-radius:1px 1px 0 0"></div>
<span class="t" style="left:481.45px;top:456.21px;font-size:5.5px;font-weight:400;color:#666;letter-spacing:-0.116px;">SET/...</span>
<div class="a" style="left:469.84999999999997px;top:392.25px;width:40px;height:6px;transform:rotate(-90deg);text-align:center;font-size:5.15px;font-weight:700;line-height:6px;color:#2f3338;white-space:nowrap">R$ 1.0 mi</div>
<div class="a" style="left:507.65px;top:263.8px;width:22.600000000000023px;height:189.2px;background:#4780b8;border-radius:1px 1px 0 0"></div>
<span class="t" style="left:510.95px;top:456.21px;font-size:5.5px;font-weight:400;color:#666;letter-spacing:0.068px;">OUT...</span>
<div class="a" style="left:499.35px;top:355.40000000000003px;width:40px;height:6px;transform:rotate(-90deg);text-align:center;font-size:5.15px;font-weight:700;line-height:6px;color:#2f3338;white-space:nowrap">R$ 1.7 mi</div>
<div class="a" style="left:537.15px;top:192px;width:22.600000000000023px;height:261px;background:#4780b8;border-radius:1px 1px 0 0"></div>
<span class="t" style="left:540.45px;top:456.21px;font-size:5.5px;font-weight:400;color:#666;letter-spacing:0.000px;">NOV...</span>
<div class="a" style="left:528.85px;top:319.5px;width:40px;height:6px;transform:rotate(-90deg);text-align:center;font-size:5.15px;font-weight:700;line-height:6px;color:#2f3338;white-space:nowrap">R$ 2.4 mi</div>
<div class="a" style="left:566.65px;top:187.4px;width:22.600000000000023px;height:265.6px;background:#4780b8;border-radius:1px 1px 0 0"></div>
<span class="t" style="left:569.95px;top:456.21px;font-size:5.5px;font-weight:400;color:#666;letter-spacing:-0.161px;">DEZ/...</span>
<div class="a" style="left:558.35px;top:317.2px;width:40px;height:6px;transform:rotate(-90deg);text-align:center;font-size:5.15px;font-weight:700;line-height:6px;color:#2f3338;white-space:nowrap">R$ 2.4 mi</div>
<div class="a" style="left:253px;top:291.2px;width:325.29999999999995px;height:1.400000000000034px;background:#f0a868;"></div>
<div class="a" style="left:251.75px;top:290.2px;width:3.4px;height:3.4px;background:#f0a868"></div><div class="a" style="left:281.25px;top:290.2px;width:3.4px;height:3.4px;background:#f0a868"></div><div class="a" style="left:310.75px;top:290.2px;width:3.4px;height:3.4px;background:#f0a868"></div><div class="a" style="left:340.25px;top:290.2px;width:3.4px;height:3.4px;background:#f0a868"></div><div class="a" style="left:369.75px;top:290.2px;width:3.4px;height:3.4px;background:#f0a868"></div><div class="a" style="left:399.25px;top:290.2px;width:3.4px;height:3.4px;background:#f0a868"></div><div class="a" style="left:428.75px;top:290.2px;width:3.4px;height:3.4px;background:#f0a868"></div><div class="a" style="left:458.25px;top:290.2px;width:3.4px;height:3.4px;background:#f0a868"></div><div class="a" style="left:487.75px;top:290.2px;width:3.4px;height:3.4px;background:#f0a868"></div><div class="a" style="left:517.25px;top:290.2px;width:3.4px;height:3.4px;background:#f0a868"></div><div class="a" style="left:546.75px;top:290.2px;width:3.4px;height:3.4px;background:#f0a868"></div><div class="a" style="left:576.25px;top:290.2px;width:3.4px;height:3.4px;background:#f0a868"></div>
<div class="a" style="left:602.3px;top:171.2px;width:16px;height:16px;border-radius:8px;background:#fff;box-shadow:0 0 2px rgba(0,0,0,0.18)"></div>
<svg class="a" style="left:605.4000000000001px;top:178.39999999999998px" width="9.5" height="2.4" viewBox="0 0 9.5 2.4"><circle cx="1.2" cy="1.2" r="1.1" fill="#666"/><circle cx="4.75" cy="1.2" r="1.1" fill="#666"/><circle cx="8.3" cy="1.2" r="1.1" fill="#666"/></svg>
<svg class="a" style="left:506px;top:217px" width="8" height="11" viewBox="0 0 8 11"><path d="M0.6 0.6V8.6L2.6 6.8 4 10 5.3 9.4 3.9 6.3H6.6z" fill="#fff" stroke="#6a6a6a" stroke-width="0.7"/></svg>
<div class="a" style="left:354px;top:470.5px;width:9.100000000000023px;height:1.1000000000000227px;background:#f0a868;"></div>
<div class="a" style="left:356.8px;top:469.4px;width:3.3999999999999773px;height:3.400000000000034px;background:#f0a868;"></div>
<span class="t" style="left:364.70px;top:467.56px;font-size:5.6px;font-weight:400;color:#333;letter-spacing:-0.240px;">Média</span>
<div class="a" style="left:382.5px;top:469px;width:4.199999999999989px;height:4px;background:#4780b8;"></div>
<span class="t" style="left:389.20px;top:467.56px;font-size:5.6px;font-weight:400;color:#333;letter-spacing:-0.186px;">Acima da Média</span>
<div class="a" style="left:430.6px;top:469px;width:4.199999999999989px;height:4px;background:#a7c7de;"></div>
<span class="t" style="left:436.90px;top:467.56px;font-size:5.6px;font-weight:400;color:#333;letter-spacing:-0.198px;">Abaixo da Média</span>
<div class="a" style="left:212.1px;top:465.0px;width:27.5px;height:7.8px;border-radius:2px;background:#fff"></div>
<span class="t" style="left:213.10px;top:466.71px;font-size:5.3px;font-weight:700;color:#333;letter-spacing:0.214px;">768 x 665</span>
<div class="a" style="left:629px;top:126.2px;width:162.5px;height:171.0px;background:#fff;border-radius:3px"></div>
<div class="a" style="left:629px;top:147.2px;width:162.5px;height:0.8000000000000114px;background:#ececec;"></div>
<svg class="a" style="left:633.90px;top:129.90px" width="13.2" height="13.2" viewBox="0 0 24 24" ><path fill="#222" d="M16 6l2.290 2.290-4.880 4.880-4-4L2 16.590 3.410 18l6-6 4 4 6.300-6.290L22 12V6z"/></svg>
<span class="t" style="left:652.20px;top:133.18px;font-size:7px;font-weight:700;color:#333;letter-spacing:0.092px;">Como está o Ticket Médio?</span>
<svg class="a" style="left:771.1px;top:135.79999999999998px" width="9.5" height="2.4" viewBox="0 0 9.5 2.4"><circle cx="1.2" cy="1.2" r="1.1" fill="#4a4a4a"/><circle cx="4.75" cy="1.2" r="1.1" fill="#4a4a4a"/><circle cx="8.3" cy="1.2" r="1.1" fill="#4a4a4a"/></svg>
<div class="a" style="left:632px;top:150.8px;width:157px;height:4.8px;border-radius:2.4px;background:#a7a7cd"></div>
<span class="t" style="left:691.40px;top:178.67px;font-size:6.4px;font-weight:400;color:#333;letter-spacing:0.117px;-webkit-text-stroke:0.25px #333;">Ticket Médio</span>
<span class="t" style="left:677.80px;top:188.06px;font-size:13.8px;font-weight:700;color:#9ba0cd;letter-spacing:0.114px;">R$ 292,68</span>
<svg class="a" style="left:0;top:0" width="1024" height="483" viewBox="0 0 1024 483"><path d="M663.1 293.3H777.9" stroke="#8c8c8c" stroke-width="0.9"/><path d="M677.9 293.3v1.6" stroke="#8c8c8c" stroke-width="0.8"/><path d="M699.5 293.3v1.6" stroke="#8c8c8c" stroke-width="0.8"/><path d="M720.3 293.3v1.6" stroke="#8c8c8c" stroke-width="0.8"/><path d="M741.8 293.3v1.6" stroke="#8c8c8c" stroke-width="0.8"/><path d="M762.9 293.3v1.6" stroke="#8c8c8c" stroke-width="0.8"/><polyline fill="none" stroke="#5c6a9f" stroke-width="1.6" points="659,287.2 677.9,260.4 699.5,274.5 720.3,264 741.8,228.7 762.9,232.1"/><rect x="676.1999999999999" y="258.7" width="3.4" height="3.4" fill="#5c6a9f"/><rect x="697.8" y="272.8" width="3.4" height="3.4" fill="#5c6a9f"/><rect x="718.5999999999999" y="262.3" width="3.4" height="3.4" fill="#5c6a9f"/><rect x="740.0999999999999" y="227.0" width="3.4" height="3.4" fill="#5c6a9f"/><rect x="761.1999999999999" y="230.4" width="3.4" height="3.4" fill="#5c6a9f"/></svg>
<div class="a" style="left:631.1px;top:287.79999999999995px;width:25.699999999999932px;height:7.8px;border-radius:2px;background:#fff"></div>
<span class="t" style="left:632.60px;top:289.51px;font-size:5.3px;font-weight:700;color:#333;letter-spacing:-0.098px;">318 x 333</span>
<div class="a" style="left:629px;top:303.2px;width:162.5px;height:170.40000000000003px;background:#fff;border-radius:3px"></div>
<div class="a" style="left:629px;top:324.6px;width:162.5px;height:0.8000000000000114px;background:#ececec;"></div>
<svg class="a" style="left:633.5px;top:309.5px" width="14" height="8" viewBox="0 0 14 8"><polyline points="1.6,6.4 5.2,2.6 8.2,4.8 12.2,1.6" fill="none" stroke="#222" stroke-width="1.5"/><circle cx="1.6" cy="6.4" r="1.1" fill="#222"/><circle cx="5.2" cy="2.6" r="1.1" fill="#222"/><circle cx="8.2" cy="4.8" r="1.1" fill="#222"/><circle cx="12.2" cy="1.6" r="1.1" fill="#222"/></svg>
<span class="t" style="left:651.90px;top:310.18px;font-size:7px;font-weight:700;color:#333;letter-spacing:-0.009px;">E meu Preço Médio?</span>
<svg class="a" style="left:771.3000000000001px;top:312.8px" width="9.5" height="2.4" viewBox="0 0 9.5 2.4"><circle cx="1.2" cy="1.2" r="1.1" fill="#4a4a4a"/><circle cx="4.75" cy="1.2" r="1.1" fill="#4a4a4a"/><circle cx="8.3" cy="1.2" r="1.1" fill="#4a4a4a"/></svg>
<span class="t" style="left:691.00px;top:348.47px;font-size:6.4px;font-weight:400;color:#333;letter-spacing:0.174px;-webkit-text-stroke:0.25px #333;">Preço Médio</span>
<span class="t" style="left:675.10px;top:358.72px;font-size:14.7px;font-weight:700;color:#c3c8e0;letter-spacing:0.235px;">R$ 544,13</span>
<svg class="a" style="left:0;top:0" width="1024" height="483" viewBox="0 0 1024 483"><path d="M663.1 471H777.9" stroke="#8c8c8c" stroke-width="0.9"/><path d="M677.9 471v1.6" stroke="#8c8c8c" stroke-width="0.8"/><path d="M699.5 471v1.6" stroke="#8c8c8c" stroke-width="0.8"/><path d="M720.7 471v1.6" stroke="#8c8c8c" stroke-width="0.8"/><path d="M741.8 471v1.6" stroke="#8c8c8c" stroke-width="0.8"/><path d="M762.9 471v1.6" stroke="#8c8c8c" stroke-width="0.8"/><polyline fill="none" stroke="#9196c8" stroke-width="1.4" points="658.2,463.9 677.9,420.8 699.5,435.4 720.7,402.7 741.8,402 762.9,409"/><rect x="676.1999999999999" y="419.1" width="3.4" height="3.4" fill="#9196c8"/><rect x="697.8" y="433.7" width="3.4" height="3.4" fill="#9196c8"/><rect x="719.0" y="401.0" width="3.4" height="3.4" fill="#9196c8"/><rect x="740.0999999999999" y="400.3" width="3.4" height="3.4" fill="#9196c8"/><rect x="761.1999999999999" y="407.3" width="3.4" height="3.4" fill="#9196c8"/></svg>
<div class="a" style="left:631.7px;top:465.29999999999995px;width:28.199999999999932px;height:7.8px;border-radius:2px;background:#fff"></div>
<span class="t" style="left:633.20px;top:467.01px;font-size:5.3px;font-weight:700;color:#333;letter-spacing:0.180px;">318 x 333</span>
<div class="a" style="left:194.5px;top:475.6px;width:16px;height:16px;border-radius:8px;background:#fff"></div>
<div class="a" style="left:363.7px;top:475.6px;width:16px;height:16px;border-radius:8px;background:#fff"></div>
<div class="a" style="left:533px;top:475.6px;width:16px;height:16px;border-radius:8px;background:#fff"></div>
<div class="a" style="left:27.5px;top:480.8px;width:781.5px;height:2.2px;background:repeating-linear-gradient(90deg,#cbcbcb 0 3px,transparent 3px 4.6px)"></div>
<div class="a" style="left:395.5px;top:474.4px;width:46.6px;height:4.3px;border-radius:3px;background:#fff;border:0.5px solid #dedede"></div>
<span class="t" style="left:398.60px;top:475.11px;font-size:4.9px;font-weight:400;color:#8a8a8a;letter-spacing:-0.103px;">Quebra de página 1</span>
</body></html>
